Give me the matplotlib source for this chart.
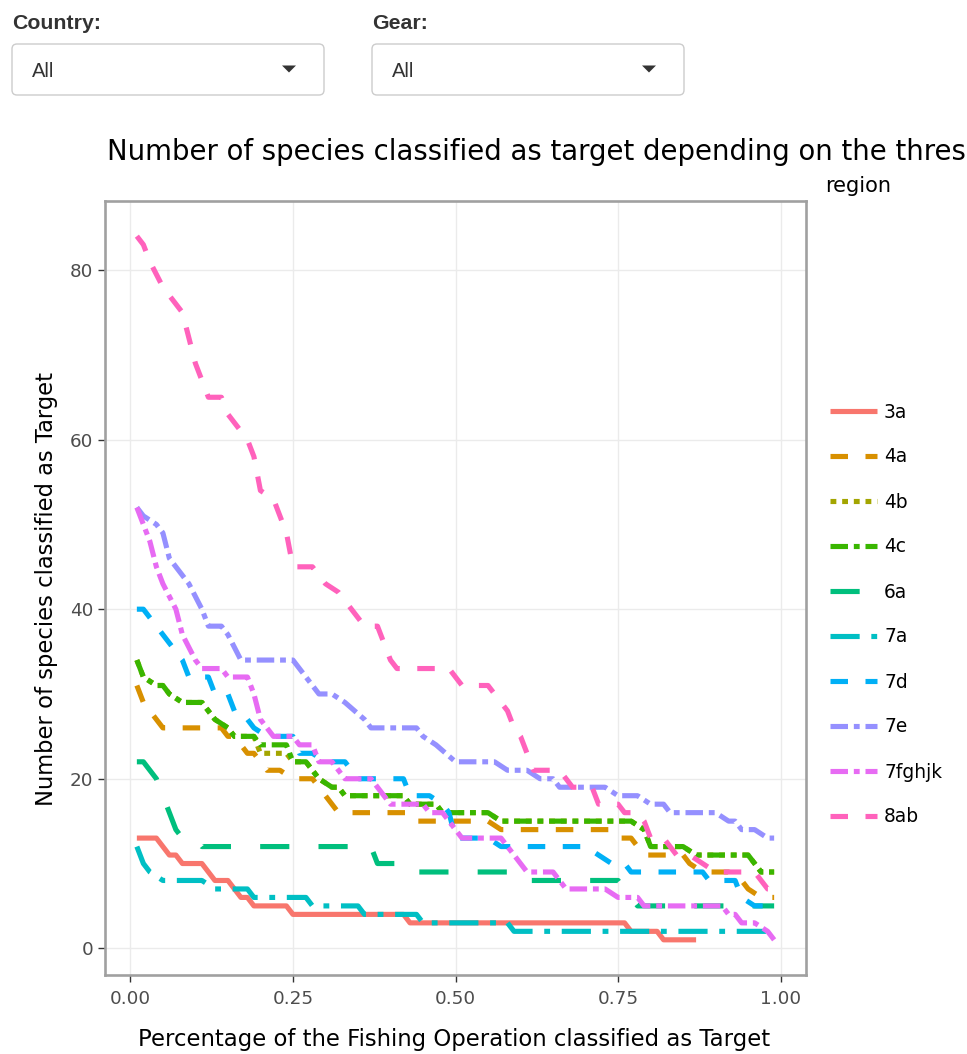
import matplotlib
matplotlib.use("Agg")
import matplotlib.pyplot as plt
from matplotlib.patches import FancyBboxPatch, Polygon

W, H, DPI = 967, 1054, 100

# ---- data -------------------------------------------------------------
regions = ["3a", "4a", "4b", "4c", "6a", "7a", "7d", "7e", "7fghjk", "8ab"]
colors = ["#F8766D", "#D89000", "#A3A500", "#39B600", "#00BF7D",
          "#00BFC4", "#00B0F6", "#9590FF", "#E76BF3", "#FF62BC"]
dash_names = ["solid", "dash", "dot", "dashdot", "longdash",
              "longdashdot", "dash", "dashdot", "dashdot", "dash"]

x_ticks = [0.00, 0.25, 0.50, 0.75, 1.00]
x_tick_labels = ["0.00", "0.25", "0.50", "0.75", "1.00"]
y_ticks = [0, 20, 40, 60, 80]

# corner points of each step curve (threshold, number of species)
x_3a = [0.01, 0.04, 0.06, 0.07, 0.08, 0.11, 0.13, 0.15, 0.17, 0.18, 0.19, 0.24, 0.25,
        0.42, 0.43, 0.76, 0.77, 0.81, 0.82, 0.87]
y_3a = [13, 13, 11, 11, 10, 10, 8, 8, 6, 6, 5, 5, 4, 4, 3, 3, 2, 2, 1, 1]

x_4a = [0.01, 0.02, 0.03, 0.04, 0.05, 0.14, 0.15, 0.16, 0.18, 0.19, 0.21, 0.23, 0.25,
        0.28, 0.30, 0.31, 0.32, 0.43, 0.44, 0.55, 0.57, 0.74, 0.75, 0.77, 0.79, 0.85,
        0.86, 0.88, 0.92, 0.94, 0.95, 0.97, 0.99]
y_4a = [31, 29, 28, 27, 26, 26, 25, 25, 23, 23, 21, 21, 20, 20, 18, 17, 16, 16, 15, 15,
        14, 14, 13, 13, 11, 11, 10, 9, 9, 8, 7, 6, 6]

x_4b = [0.01, 0.02, 0.04, 0.05, 0.06, 0.08, 0.11, 0.12, 0.13, 0.15, 0.16, 0.19, 0.20,
        0.24, 0.25, 0.27, 0.28, 0.29, 0.31, 0.32, 0.33, 0.42, 0.43, 0.47, 0.48, 0.55,
        0.57, 0.77, 0.79, 0.80, 0.85, 0.87, 0.95, 0.97, 0.99]
y_4b = [34, 32, 31, 31, 30, 29, 29, 28, 27, 26, 25, 25, 23, 23, 22, 22, 21, 20, 19, 19,
        18, 18, 17, 17, 16, 16, 15, 15, 14, 12, 12, 11, 11, 9, 9]

x_4c = [0.01, 0.02, 0.04, 0.05, 0.06, 0.08, 0.11, 0.12, 0.13, 0.15, 0.16, 0.19, 0.20,
        0.24, 0.25, 0.27, 0.28, 0.29, 0.31, 0.32, 0.33, 0.42, 0.43, 0.47, 0.48, 0.55,
        0.57, 0.77, 0.79, 0.80, 0.85, 0.87, 0.95, 0.97, 0.99]
y_4c = [34, 32, 31, 31, 30, 29, 29, 28, 27, 26, 25, 25, 24, 24, 22, 22, 21, 20, 19, 19,
        18, 18, 17, 17, 16, 16, 15, 15, 14, 12, 12, 11, 11, 9, 9]

x_6a = [0.01, 0.02, 0.04, 0.05, 0.06, 0.07, 0.08, 0.10, 0.11, 0.37, 0.38, 0.42, 0.43,
        0.58, 0.59, 0.75, 0.76, 0.77, 0.78, 0.99]
y_6a = [22, 22, 20, 18, 16, 14, 13, 13, 12, 12, 10, 10, 9, 9, 8, 8, 7, 6, 5, 5]

x_7a = [0.01, 0.02, 0.03, 0.05, 0.11, 0.13, 0.18, 0.19, 0.27, 0.28, 0.35, 0.36, 0.44,
        0.45, 0.58, 0.59, 0.99]
y_7a = [12, 10, 9, 8, 8, 7, 7, 6, 6, 5, 5, 4, 4, 3, 3, 2, 2]

x_7d = [0.01, 0.02, 0.03, 0.05, 0.06, 0.08, 0.09, 0.12, 0.13, 0.15, 0.16, 0.17, 0.18,
        0.19, 0.21, 0.25, 0.26, 0.28, 0.30, 0.33, 0.35, 0.42, 0.43, 0.46, 0.48, 0.49,
        0.50, 0.55, 0.57, 0.70, 0.72, 0.74, 0.76, 0.77, 0.88, 0.89, 0.93, 0.94, 0.96, 0.99]
y_7d = [40, 40, 39, 37, 36, 34, 32, 32, 30, 30, 28, 27, 27, 26, 25, 25, 23, 23, 22, 22,
        20, 20, 18, 18, 17, 16, 13, 13, 12, 12, 11, 10, 10, 9, 9, 8, 8, 6, 5, 5]

x_7e = [0.01, 0.02, 0.04, 0.05, 0.06, 0.07, 0.09, 0.11, 0.12, 0.14, 0.15, 0.17, 0.25,
        0.26, 0.27, 0.29, 0.31, 0.33, 0.36, 0.37, 0.44, 0.45, 0.47, 0.50, 0.56, 0.58,
        0.61, 0.63, 0.65, 0.66, 0.73, 0.75, 0.78, 0.80, 0.82, 0.83, 0.90, 0.92, 0.93,
        0.94, 0.96, 0.98, 0.99]
y_7e = [52, 51, 50, 49, 46, 45, 43, 40, 38, 38, 37, 34, 34, 33, 32, 30, 30, 29, 27, 26,
        26, 25, 24, 22, 22, 21, 21, 20, 20, 19, 19, 18, 18, 17, 17, 16, 16, 15, 15, 14,
        14, 13, 13]

x_7fghjk = [0.01, 0.02, 0.03, 0.04, 0.05, 0.07, 0.08, 0.10, 0.11, 0.14, 0.15, 0.18,
            0.19, 0.20, 0.22, 0.25, 0.26, 0.28, 0.29, 0.31, 0.32, 0.33, 0.37, 0.38,
            0.39, 0.40, 0.45, 0.46, 0.48, 0.50, 0.51, 0.57, 0.59, 0.61, 0.65, 0.66,
            0.67, 0.73, 0.75, 0.78, 0.79, 0.91, 0.92, 0.93, 0.94, 0.96, 0.98, 0.99]
y_7fghjk = [52, 50, 48, 45, 43, 40, 37, 34, 33, 33, 32, 32, 30, 27, 25, 25, 24, 24,
            22, 22, 21, 20, 20, 19, 18, 17, 17, 16, 16, 14, 13, 13, 11, 9, 9, 8, 7, 7,
            6, 6, 5, 5, 4, 4, 3, 3, 2, 1]

x_8ab = [0.01, 0.02, 0.03, 0.05, 0.06, 0.08, 0.09, 0.10, 0.11, 0.12, 0.14, 0.15, 0.17,
         0.18, 0.19, 0.20, 0.22, 0.23, 0.24, 0.25, 0.28, 0.29, 0.30, 0.32, 0.33, 0.34,
         0.36, 0.38, 0.39, 0.40, 0.41, 0.49, 0.51, 0.55, 0.56, 0.58, 0.59, 0.60, 0.61,
         0.62, 0.66, 0.68, 0.71, 0.72, 0.75, 0.76, 0.78, 0.79, 0.80, 0.82, 0.84, 0.86,
         0.88, 0.90, 0.96, 0.98, 0.99]
y_8ab = [84, 83, 81, 78, 77, 75, 72, 69, 67, 65, 65, 63, 61, 60, 58, 54, 53, 51, 49, 45,
         45, 44, 43, 42, 41, 40, 38, 38, 36, 34, 33, 33, 31, 31, 30, 28, 26, 25, 23, 21,
         21, 19, 19, 17, 17, 16, 16, 15, 13, 13, 11, 11, 10, 9, 9, 7, 7]

series_x = [x_3a, x_4a, x_4b, x_4c, x_6a, x_7a, x_7d, x_7e, x_7fghjk, x_8ab]
series_y = [y_3a, y_4a, y_4b, y_4c, y_6a, y_7a, y_7d, y_7e, y_7fghjk, y_8ab]

title = "Number of species classified as target depending on the thres"
x_label = "Percentage of the Fishing Operation classified as Target"
y_label = "Number of species classified as Target"
filters = ["Country:", "Gear:"]
filter_values = ["All", "All"]

# ---- styling ----------------------------------------------------------
plt.rcParams["lines.scale_dashes"] = False
plt.rcParams["font.family"] = ["DejaVu Sans"]
U = 4.2      # dash unit (pt)
LW = 3.7     # line width (pt)
DASHES = {
    "solid": "-",
    "dash": (0, (3 * U, 3 * U)),
    "dot": (0, (U, U)),
    "dashdot": (0, (3 * U, U, U, U)),
    "longdash": (0, (5 * U, 5 * U)),
    "longdashdot": (0, (5 * U, 2 * U, U, 2 * U)),
}
line_kw = dict(lw=LW, dash_capstyle="butt", solid_capstyle="butt",
               solid_joinstyle="round", dash_joinstyle="round")

fig = plt.figure(figsize=(W / DPI, H / DPI), dpi=DPI, facecolor="white")

# pixel-space layer for the controls, legend and labels
ov = fig.add_axes([0, 0, 1, 1])
ov.set_xlim(0, W)
ov.set_ylim(H, 0)
ov.axis("off")
ov.patch.set_visible(False)

# ---- main panel -------------------------------------------------------
L, R, T, B = 105, 806, 201, 975
ax = fig.add_axes([L / W, 1 - B / H, (R - L) / W, (B - T) / H])
ax.set_zorder(2)
ax.set_facecolor("white")

for xs, ys, c, dn in zip(series_x, series_y, colors, dash_names):
    ax.plot(xs, ys, color=c, linestyle=DASHES[dn], **line_kw)

ax.set_xlim(-0.039, 1.039)
ax.set_ylim(-3.15, 88.15)
ax.set_xticks(x_ticks)
ax.set_xticklabels(x_tick_labels)
ax.set_yticks(y_ticks)
ax.grid(True, color="#EBEBEB", lw=1.0)
ax.set_axisbelow(True)
for sp in ax.spines.values():
    sp.set_color("#A0A0A0")
    sp.set_linewidth(1.9)
ax.tick_params(axis="both", direction="out", length=5, width=1.0,
               color="#333333", labelcolor="#4D4D4D", labelsize=13.2)
ax.tick_params(axis="x", pad=5.5)
ax.tick_params(axis="y", pad=3.5)

# ---- titles -----------------------------------------------------------
ov.text(107, 160, title, fontsize=19.85, color="black", ha="left", va="baseline")
ov.text(454, 1046, x_label, fontsize=16.4, color="black", ha="center", va="baseline")
ov.text(47, 589, y_label, fontsize=16.3, color="black", ha="center", va="center",
        rotation=90)

# ---- legend -----------------------------------------------------------
ov.text(825, 192, "region", fontsize=15.0, color="black", ha="left", va="baseline")
row0, row_step = 411, 45
for i, (name, c, dn) in enumerate(zip(regions, colors, dash_names)):
    yy = row0 + i * row_step
    ov.plot([830, 877], [yy, yy], color=c, linestyle=DASHES[dn], **line_kw)
    ov.text(884, yy + 6.5, name, fontsize=13.4, color="black", ha="left",
            va="baseline")

# ---- filter controls --------------------------------------------------
for k, (lab, val) in enumerate(zip(filters, filter_values)):
    x0 = 12 + k * 360
    ov.text(x0, 29, lab, fontsize=15.3, fontweight="bold", color="#333333",
            family="Liberation Sans", ha="left", va="baseline")
    box = FancyBboxPatch((x0, 44), 312, 51,
                         boxstyle="round,pad=0,rounding_size=5",
                         facecolor="white", edgecolor="#CCCCCC", lw=1.0)
    ov.add_patch(box)
    ov.text(x0 + 20, 77, val, fontsize=14.5, color="#333333",
            family="Liberation Sans", ha="left", va="baseline")
    tx = x0 + 277
    ov.add_patch(Polygon([(tx - 7, 65.5), (tx + 7, 65.5), (tx, 72.5)],
                         closed=True, facecolor="#333333", edgecolor="none"))

fig.savefig("out.png", dpi=DPI, facecolor="white")
